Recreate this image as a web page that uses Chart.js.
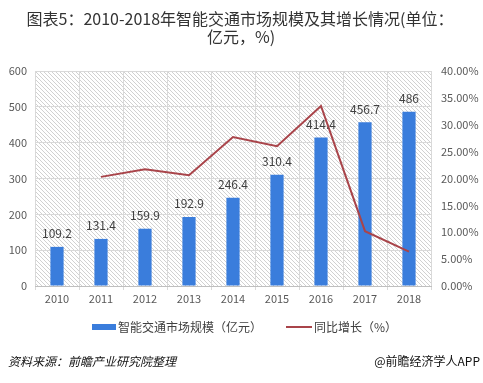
<!DOCTYPE html>
<html><head><meta charset="utf-8">
<script src="https://cdn.jsdelivr.net/npm/chart.js@4/dist/chart.umd.min.js"></script>
<style>
html,body{margin:0;padding:0;background:#fff;}
#wrap{position:relative;width:483px;height:383px;}
canvas{display:block;}
</style></head>
<body>
<div id="wrap"><canvas id="c" width="483" height="383"></canvas></div>
<script>
const years = ['2010','2011','2012','2013','2014','2015','2016','2017','2018'];
const marketSize = [109.2, 131.4, 159.9, 192.9, 246.4, 310.4, 414.4, 456.7, 486];
const growthRate = [null, 0.203, 0.217, 0.206, 0.277, 0.260, 0.335, 0.102, 0.064];
const titleLines = ['图表5：2010-2018年智能交通市场规模及其增长情况(单位：', '亿元，%)'];
const seriesNames = ['智能交通市场规模（亿元）', '同比增长（%）'];
const sourceText = '资料来源：前瞻产业研究院整理';
const brandText = '@前瞻经济学人APP';

const FONT = '"Microsoft YaHei","Noto Sans CJK SC","DejaVu Sans",sans-serif';
const BAR_COLOR = '#3A7DDC';
const LINE_COLOR = '#A9444A';

function makeHatch(){
  const p = document.createElement('canvas');
  p.width = 4; p.height = 4;
  const g = p.getContext('2d');
  g.strokeStyle = 'rgba(190,190,190,0.7)';
  g.lineWidth = 1;
  g.beginPath();
  g.moveTo(-1,-1); g.lineTo(5,5);
  g.moveTo(-1,3); g.lineTo(1,5);
  g.moveTo(3,-1); g.lineTo(5,1);
  g.stroke();
  return p;
}

const bgPlugin = {
  id:'bg',
  beforeDraw(chart){
    const {ctx, chartArea:a} = chart;
    ctx.save();
    ctx.fillStyle = ctx.createPattern(makeHatch(),'repeat');
    ctx.fillRect(a.left, a.top, a.right-a.left, a.bottom-a.top);
    ctx.restore();
  }
};

const textPlugin = {
  id:'texts',
  afterDraw(chart){
    const ctx = chart.ctx;
    ctx.save();
    ctx.fillStyle = '#333';
    ctx.font = '16px ' + FONT;
    ctx.textAlign = 'center';
    ctx.textBaseline = 'middle';
    ctx.fillText(titleLines[0], 240, 19);
    ctx.fillText(titleLines[1], 241, 37);

    // legend
    ctx.font = '12px ' + FONT;
    ctx.fillStyle = '#404040';
    ctx.textAlign = 'left';
    ctx.fillStyle = BAR_COLOR;
    ctx.fillRect(92, 324, 24, 6);
    ctx.fillStyle = '#404040';
    ctx.fillText(seriesNames[0], 118, 327);
    ctx.strokeStyle = LINE_COLOR;
    ctx.lineWidth = 2;
    ctx.beginPath(); ctx.moveTo(286, 327); ctx.lineTo(312, 327); ctx.stroke();
    ctx.fillText(seriesNames[1], 314, 327);

    ctx.font = 'italic 12px ' + FONT;
    ctx.fillStyle = '#111';
    ctx.fillText(sourceText, 8, 361);
    ctx.font = '12px ' + FONT;
    ctx.textAlign = 'right';
    ctx.fillText(brandText, 480, 361);
    ctx.restore();
  }
};

const labelPlugin = {
  id:'barLabels',
  afterDatasetsDraw(chart){
    const ctx = chart.ctx;
    const meta = chart.getDatasetMeta(0);
    ctx.save();
    ctx.fillStyle = '#404040';
    ctx.font = '12px ' + FONT;
    ctx.textAlign = 'center';
    ctx.textBaseline = 'bottom';
    meta.data.forEach((el,i)=>{
      ctx.fillText(String(marketSize[i]), el.x, el.y - 7);
    });
    ctx.restore();
  }
};

new Chart(document.getElementById('c'), {
  type:'bar',
  data:{
    labels: years,
    datasets:[
      {type:'bar', label:seriesNames[0], data:marketSize, backgroundColor:BAR_COLOR, yAxisID:'y',
       barPercentage:0.3, categoryPercentage:1.0, order:2},
      {type:'line', label:seriesNames[1], data:growthRate, borderColor:LINE_COLOR, backgroundColor:LINE_COLOR,
       borderWidth:2, pointRadius:0, tension:0, yAxisID:'y1', order:1}
    ]
  },
  plugins:[bgPlugin, labelPlugin, textPlugin],
  options:{
    responsive:false,
    animation:false,
    layout:{padding:{top:71, left:4, right:0, bottom:0}},
    plugins:{
      title:{display:false},
      tooltip:{enabled:false},
      legend:{display:false}
    },
    scales:{
      x:{
        grid:{display:true, color:'#D9D9D9', offset:true, drawTicks:true, tickLength:4},
        border:{color:'#BFBFBF'},
        ticks:{color:'#595959', font:{size:11, family:FONT}, padding:2},
        afterFit(s){ s.height = 97; }
      },
      y:{
        position:'left', min:0, max:600,
        ticks:{stepSize:100, color:'#595959', font:{size:11, family:FONT}, padding:8},
        grid:{color:'#D9D9D9', drawTicks:false},
        border:{display:false},
        afterFit(s){ s.width = 31; }
      },
      y1:{
        position:'right', min:0, max:0.4,
        ticks:{stepSize:0.05, color:'#595959', font:{size:11, family:FONT}, padding:10,
          callback:v=>(v*100).toFixed(2)+'%'},
        grid:{display:false, drawTicks:false},
        border:{display:false},
        afterFit(s){ s.width = 52; }
      }
    }
  }
});
</script>
</body></html>
